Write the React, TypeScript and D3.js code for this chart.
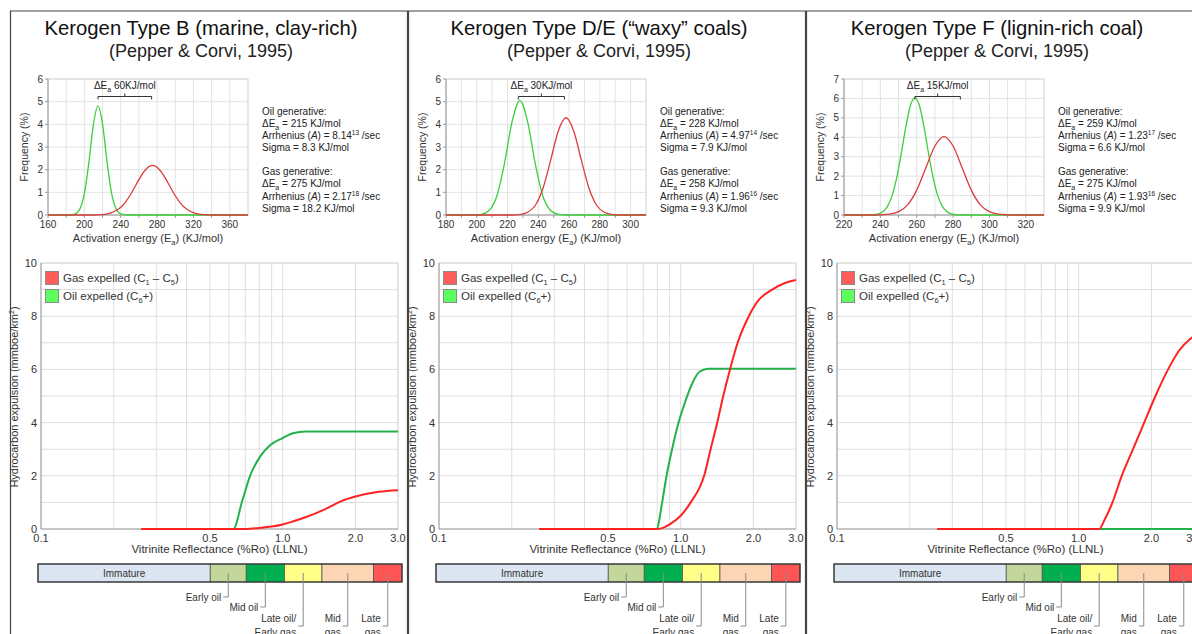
import React from "react";
import * as d3 from "d3";

const W = 1192;
const H = 634;
const FONT = "'Liberation Sans', Arial, Helvetica, sans-serif";

// panel headings
const panelTitles = [
  "Kerogen Type B (marine, clay-rich)",
  "Kerogen Type D/E (\u201cwaxy\u201d coals)",
  "Kerogen Type F (lignin-rich coal)",
];
const panelSource = "(Pepper & Corvi, 1995)";

// activation energy distribution charts
const eaDomains: [number, number][] = [[160, 380], [180, 310], [220, 330]];
const eaTicks = [
  [160, 200, 240, 280, 320, 360],
  [180, 200, 220, 240, 260, 280, 300],
  [220, 240, 260, 280, 300, 320],
];
const eaGridStep = [20, 10, 10];
const freqMax = [6, 6, 7];

const oilFreqB: [number, number][] = [
  [160, 0], [180, 0], [185, 0.01], [190, 0.05], [195, 0.26], [200, 0.94], [205, 2.33], [210, 4.01],
  [215, 4.81], [220, 4.01], [225, 2.33], [230, 0.94], [235, 0.26], [240, 0.05], [245, 0.01], [250, 0], [380, 0],
];
const gasFreqB: [number, number][] = [
  [160, 0], [210, 0], [215, 0.01], [220, 0.02], [225, 0.05], [230, 0.1], [235, 0.2], [240, 0.34], [245, 0.56],
  [250, 0.85], [255, 1.2], [260, 1.56], [265, 1.88], [270, 2.11], [275, 2.19], [280, 2.11], [285, 1.88],
  [290, 1.56], [295, 1.2], [300, 0.85], [305, 0.56], [310, 0.34], [315, 0.2], [320, 0.1], [325, 0.05],
  [330, 0.02], [335, 0.01], [340, 0], [380, 0],
];
const oilFreqDE: [number, number][] = [
  [180, 0], [198, 0], [203, 0.03], [208, 0.2], [213, 0.83], [218, 2.27], [223, 4.13], [228, 5.05],
  [233, 4.13], [238, 2.27], [243, 0.83], [248, 0.2], [253, 0.03], [258, 0], [310, 0],
];
const gasFreqDE: [number, number][] = [
  [180, 0], [223, 0], [228, 0.02], [233, 0.12], [238, 0.42], [243, 1.17], [248, 2.41], [253, 3.71],
  [258, 4.29], [263, 3.71], [268, 2.41], [273, 1.17], [278, 0.42], [283, 0.12], [288, 0.02], [293, 0], [310, 0],
];
const oilFreqF: [number, number][] = [
  [220, 0], [234, 0], [239, 0.06], [241.5, 0.18], [244, 0.46], [246.5, 1.01], [249, 1.92], [251.5, 3.17],
  [254, 4.53], [256.5, 5.62], [259, 6.04], [261.5, 5.62], [264, 4.53], [266.5, 3.17], [269, 1.92],
  [271.5, 1.01], [274, 0.46], [276.5, 0.18], [279, 0.06], [284, 0], [330, 0],
];
const gasFreqF: [number, number][] = [
  [220, 0], [235, 0], [240, 0.01], [245, 0.04], [250, 0.17], [255, 0.52], [260, 1.28], [265, 2.42],
  [270, 3.55], [275, 4.03], [280, 3.55], [285, 2.42], [290, 1.28], [295, 0.52], [300, 0.17], [305, 0.04],
  [310, 0.01], [315, 0], [330, 0],
];
const oilFreq = [oilFreqB, oilFreqDE, oilFreqF];
const gasFreq = [gasFreqB, gasFreqDE, gasFreqF];

// delta Ea brackets
const bracketFrom = [215, 227, 259];
const bracketTo = [274, 257, 284];
const bracketLabel = ["60KJ/mol", "30KJ/mol", "15KJ/mol"];

// kinetic parameters
const oilEa = [215, 228, 259];
const oilA = [["8.14", "13"], ["4.97", "14"], ["1.23", "17"]];
const oilSigma = ["8.3", "7.9", "6.6"];
const gasEa = [275, 258, 275];
const gasA = [["2.17", "18"], ["1.96", "16"], ["1.93", "16"]];
const gasSigma = ["18.2", "9.3", "9.9"];

// expulsion vs vitrinite reflectance
const roTickLabels = ["0.1", "0.5", "1.0", "2.0", "3.0"];
const yTicksExp = [0, 2, 4, 6, 8, 10];

const oilExpB: [number, number][] = [
  [0.26, 0], [0.625, 0], [0.68, 1.05], [0.733, 2.0], [0.81, 2.75], [0.887, 3.15], [1.0, 3.42],
  [1.1, 3.6], [1.25, 3.67], [3.0, 3.67],
];
const gasExpB: [number, number][] = [
  [0.26, 0], [0.7, 0], [0.8, 0.04], [0.9, 0.09], [1.0, 0.17], [1.1, 0.28], [1.25, 0.45], [1.5, 0.75],
  [1.75, 1.05], [2.0, 1.22], [2.5, 1.4], [3.0, 1.46],
];
const oilExpDE: [number, number][] = [
  [0.26, 0], [0.794, 0], [0.84, 1.05], [0.87, 1.9], [0.924, 3.05], [0.98, 4.0], [1.05, 4.85],
  [1.117, 5.48], [1.2, 5.92], [1.3, 6.02], [3.0, 6.02],
];
const gasExpDE: [number, number][] = [
  [0.26, 0], [0.8, 0], [0.85, 0.05], [0.91, 0.2], [1.0, 0.5], [1.1, 1.0], [1.25, 2.0], [1.33, 3.0],
  [1.417, 4.0], [1.5, 5.0], [1.6, 6.0], [1.72, 7.0], [1.914, 8.0], [2.1, 8.6], [2.39, 9.0], [2.7, 9.25],
  [3.0, 9.36],
];
const oilExpF: [number, number][] = [[0.26, 0], [3.0, 0]];
const gasExpF: [number, number][] = [
  [0.26, 0], [1.216, 0], [1.28, 0.35], [1.38, 1.0], [1.507, 2.0], [1.678, 3.0], [1.867, 4.0], [2.078, 5.0],
  [2.344, 6.0], [2.6, 6.7], [2.9, 7.15], [3.0, 7.25],
];
const oilExp = [oilExpB, oilExpDE, oilExpF];
const gasExp = [gasExpB, gasExpDE, gasExpF];

// maturity window bar
const zoneNames = ["Immature", "Early oil", "Mid oil", "Late oil/\nEarly gas", "Mid\ngas", "Late\ngas"];
const zoneEdges = [0.1, 0.5, 0.7, 1.0, 1.42, 2.3, 3.0];
const zoneColors = ["#dce6f2", "#c4d79b", "#00b050", "#ffff88", "#fcd5b4", "#ff5555"];

// layout (panel-relative)
const panelLeft = [10, 408, 806];
const leaderDrop = [0, 597, 607, 626, 626, 626];

const SM = { l: 38, r: 238, t: 79, b: 215 };
const BG = { l: 31, r: 388, t: 263, b: 529 };
const BAR = { l: 28, r: 392, t: 564, b: 582 };

function Panel({ i }: { i: number }) {
  const ox = panelLeft[i];
  const [e0, e1] = eaDomains[i];
  const ex = d3.scaleLinear().domain(eaDomains[i]).range([SM.l, SM.r]);
  const ey = d3.scaleLinear().domain([0, freqMax[i]]).range([SM.b, SM.t]);
  const freqLine = d3
    .line<[number, number]>()
    .x((d) => ex(d[0]))
    .y((d) => ey(d[1]))
    .curve(d3.curveMonotoneX);
  const eGrid = d3.range(e0 + eaGridStep[i], e1, eaGridStep[i]);
  const fTicks = d3.range(0, freqMax[i] + 1);

  const rx = d3.scaleLog().domain([0.1, 3]).range([BG.l, BG.r]);
  const ry = d3.scaleLinear().domain([0, 10]).range([BG.b, BG.t]);
  const expLine = d3
    .line<[number, number]>()
    .x((d) => rx(d[0]))
    .y((d) => ry(d[1]))
    .curve(d3.curveMonotoneX);
  const roGrid = rx.ticks().filter((v) => v > 0.1 + 1e-9);
  const hGrid = d3.range(1, 11);

  const bx = d3.scaleLog().domain([0.1, 3]).range([BAR.l, BAR.r]);

  const bFrom = ex(bracketFrom[i]);
  const bTo = ex(bracketTo[i]);
  const bY = 96.5;

  const tx = SM.l + 214;
  const small = 10;

  return (
    <g transform={`translate(${ox},0)`} fontFamily={FONT}>
      {/* headings */}
      <text x={191} y={35} textAnchor="middle" fontSize={20.3} fill="#111">
        {panelTitles[i]}
      </text>
      <text x={191} y={57} textAnchor="middle" fontSize={18} fill="#222">
        {panelSource}
      </text>

      {/* activation energy chart */}
      <rect x={SM.l} y={SM.t} width={SM.r - SM.l} height={SM.b - SM.t} fill="#fff" stroke="#cfcfcf" />
      {eGrid.map((v) => (
        <line key={`eg${v}`} x1={ex(v)} x2={ex(v)} y1={SM.t} y2={SM.b} stroke="#e3e3e3" />
      ))}
      {fTicks.slice(1).map((v) => (
        <line key={`fg${v}`} x1={SM.l} x2={SM.r} y1={ey(v)} y2={ey(v)} stroke="#e3e3e3" />
      ))}
      <line x1={SM.l} x2={SM.l} y1={SM.t} y2={SM.b} stroke="#9a9a9a" />
      <line x1={SM.l} x2={SM.r} y1={SM.b} y2={SM.b} stroke="#9a9a9a" />
      {fTicks.map((v) => (
        <g key={`ft${v}`}>
          <line x1={SM.l - 3} x2={SM.l} y1={ey(v)} y2={ey(v)} stroke="#9a9a9a" />
          <text x={SM.l - 5} y={ey(v) + 3.5} textAnchor="end" fontSize={small} fill="#333">
            {v}
          </text>
        </g>
      ))}
      {[e0, ...eGrid].map((v) => (
        <line key={`et${v}`} x1={ex(v)} x2={ex(v)} y1={SM.b} y2={SM.b + 3} stroke="#9a9a9a" />
      ))}
      {eaTicks[i].map((v) => (
        <text key={`el${v}`} x={ex(v)} y={228} textAnchor="middle" fontSize={small} fill="#333">
          {v}
        </text>
      ))}
      <path d={freqLine(oilFreq[i]) || ""} fill="none" stroke="#3ccf3c" strokeWidth={1.3} />
      <path d={freqLine(gasFreq[i]) || ""} fill="none" stroke="#dd3b3b" strokeWidth={1.3} />
      <text
        transform={`translate(18,${(SM.t + SM.b) / 2}) rotate(-90)`}
        textAnchor="middle"
        fontSize={10.5}
        fill="#333"
      >
        Frequency (%)
      </text>
      <text x={(SM.l + SM.r) / 2} y={242} textAnchor="middle" fontSize={11} fill="#333">
        Activation energy (E<tspan dy={2.5} fontSize={7.5}>a</tspan>
        <tspan dy={-2.5}>) (KJ/mol)</tspan>
      </text>

      {/* delta Ea bracket */}
      <path
        d={`M${bFrom},${bY + 3}V${bY}H${bTo}V${bY + 3}M${(bFrom + bTo) / 2},${bY}V${bY - 3}`}
        fill="none"
        stroke="#333"
        strokeWidth={1}
      />
      <text x={(bFrom + bTo) / 2} y={89} textAnchor="middle" fontSize={10} fill="#222">
        ΔE<tspan dy={2.5} fontSize={7}>a</tspan>
        <tspan dy={-2.5}> {bracketLabel[i]}</tspan>
      </text>

      {/* kinetic parameters */}
      <g fontSize={10} fill="#222">
        <text x={tx} y={115}>Oil generative:</text>
        <text x={tx} y={127}>
          ΔE<tspan dy={2.5} fontSize={7}>a</tspan>
          <tspan dy={-2.5}> = {oilEa[i]} KJ/mol</tspan>
        </text>
        <text x={tx} y={139}>
          Arrhenius (<tspan fontStyle="italic">A</tspan>) = {oilA[i][0]}
          <tspan dy={-4} fontSize={6.5}>{oilA[i][1]}</tspan>
          <tspan dy={4}> /sec</tspan>
        </text>
        <text x={tx} y={151}>Sigma = {oilSigma[i]} KJ/mol</text>
        <text x={tx} y={175}>Gas generative:</text>
        <text x={tx} y={187}>
          ΔE<tspan dy={2.5} fontSize={7}>a</tspan>
          <tspan dy={-2.5}> = {gasEa[i]} KJ/mol</tspan>
        </text>
        <text x={tx} y={199.5}>
          Arrhenius (<tspan fontStyle="italic">A</tspan>) = {gasA[i][0]}
          <tspan dy={-4} fontSize={6.5}>{gasA[i][1]}</tspan>
          <tspan dy={4}> /sec</tspan>
        </text>
        <text x={tx} y={211.5}>Sigma = {gasSigma[i]} KJ/mol</text>
      </g>

      {/* expulsion chart */}
      <rect x={BG.l} y={BG.t} width={BG.r - BG.l} height={BG.b - BG.t} fill="#fff" stroke="#d6d6d6" />
      {roGrid.map((v) => (
        <line key={`rg${v}`} x1={rx(v)} x2={rx(v)} y1={BG.t} y2={BG.b} stroke="#dedede" />
      ))}
      {hGrid.map((v) => (
        <line key={`hg${v}`} x1={BG.l} x2={BG.r} y1={ry(v)} y2={ry(v)} stroke="#dedede" />
      ))}
      <line x1={BG.l} x2={BG.l} y1={BG.t} y2={BG.b} stroke="#a0a0a0" />
      <line x1={BG.l} x2={BG.r} y1={BG.b} y2={BG.b} stroke="#a0a0a0" />
      {yTicksExp.map((v) => (
        <text key={`yl${v}`} x={BG.l - 4} y={ry(v) + 4} textAnchor="end" fontSize={11} fill="#333">
          {v}
        </text>
      ))}
      {roTickLabels.map((s) => (
        <text key={`rl${s}`} x={rx(+s)} y={542} textAnchor="middle" fontSize={11} fill="#333">
          {s}
        </text>
      ))}
      <path d={expLine(oilExp[i]) || ""} fill="none" stroke="#22b14c" strokeWidth={2} />
      <path d={expLine(gasExp[i]) || ""} fill="none" stroke="#ff2222" strokeWidth={2} />
      <text
        transform={`translate(8,${(BG.t + BG.b) / 2 + 1}) rotate(-90)`}
        textAnchor="middle"
        fontSize={11}
        fill="#333"
      >
        Hydrocarbon expulsion (mmboe/km<tspan dy={-4} fontSize={7}>2</tspan>
        <tspan dy={4}>)</tspan>
      </text>
      <text x={(BG.l + BG.r) / 2} y={553} textAnchor="middle" fontSize={11.5} fill="#333">
        Vitrinite Reflectance (%Ro) (LLNL)
      </text>

      {/* legend */}
      <rect x={BG.l + 4.5} y={271.5} width={13} height={13} fill="#ff5c5c" stroke="#8a8a8a" />
      <rect x={BG.l + 4.5} y={289.5} width={13} height={13} fill="#5cff5c" stroke="#8a8a8a" />
      <g fontSize={11.5} fill="#333">
        <text x={BG.l + 22} y={282}>
          Gas expelled (C<tspan dy={2.5} fontSize={7.5}>1</tspan>
          <tspan dy={-2.5}> – C</tspan>
          <tspan dy={2.5} fontSize={7.5}>5</tspan>
          <tspan dy={-2.5}>)</tspan>
        </text>
        <text x={BG.l + 22} y={300}>
          Oil expelled (C<tspan dy={2.5} fontSize={7.5}>6</tspan>
          <tspan dy={-2.5}>+)</tspan>
        </text>
      </g>

      {/* maturity bar */}
      {zoneNames.map((name, k) => {
        const a = bx(zoneEdges[k]);
        const b = bx(zoneEdges[k + 1]);
        return (
          <rect key={`z${k}`} x={a} y={BAR.t} width={b - a} height={BAR.b - BAR.t} fill={zoneColors[k]} stroke="#555" strokeWidth={0.8} />
        );
      })}
      <rect x={BAR.l} y={BAR.t} width={BAR.r - BAR.l} height={BAR.b - BAR.t} fill="none" stroke="#333" strokeWidth={1.2} />
      <text
        x={(bx(zoneEdges[0]) + bx(zoneEdges[1])) / 2}
        y={BAR.t + 13}
        textAnchor="middle"
        fontSize={10}
        fill="#333"
      >
        {zoneNames[0]}
      </text>
      {zoneNames.slice(1).map((name, j) => {
        const k = j + 1;
        const lx = (bx(zoneEdges[k]) + bx(zoneEdges[k + 1])) / 2;
        const dy = leaderDrop[k];
        const lines = name.split("\n");
        return (
          <g key={`zl${k}`}>
            <path d={`M${lx},${BAR.b - 9}V${dy}H${lx - 5}`} fill="none" stroke="#8a8a8a" strokeWidth={1} />
            {lines.length === 1 ? (
              <text x={lx - 7} y={dy + 4} textAnchor="end" fontSize={10} fill="#333">
                {lines[0]}
              </text>
            ) : (
              <>
                <text x={lx - 7} y={dy - 4} textAnchor="end" fontSize={10} fill="#333">
                  {lines[0]}
                </text>
                <text x={lx - 7} y={dy + 10} textAnchor="end" fontSize={10} fill="#333">
                  {lines[1]}
                </text>
              </>
            )}
          </g>
        );
      })}

      {/* panel frame */}
      <line x1={0.5} x2={0.5} y1={11} y2={H} stroke="#444" strokeWidth={1.2} />
      <line x1={397.5} x2={397.5} y1={11} y2={H} stroke="#444" strokeWidth={1.2} />
    </g>
  );
}

export default function App() {
  return (
    <div style={{ position: "absolute", left: 0, top: 0, width: W, height: H, overflow: "hidden", background: "#fff" }}>
      <svg width={W} height={H} style={{ display: "block" }}>
        <rect width={W} height={H} fill="#fff" />
        {[0, 1, 2].map((i) => (
          <Panel key={i} i={i} />
        ))}
        <line x1={10} x2={W} y1={11} y2={11} stroke="#444" strokeWidth={1.2} />
      </svg>
    </div>
  );
}
